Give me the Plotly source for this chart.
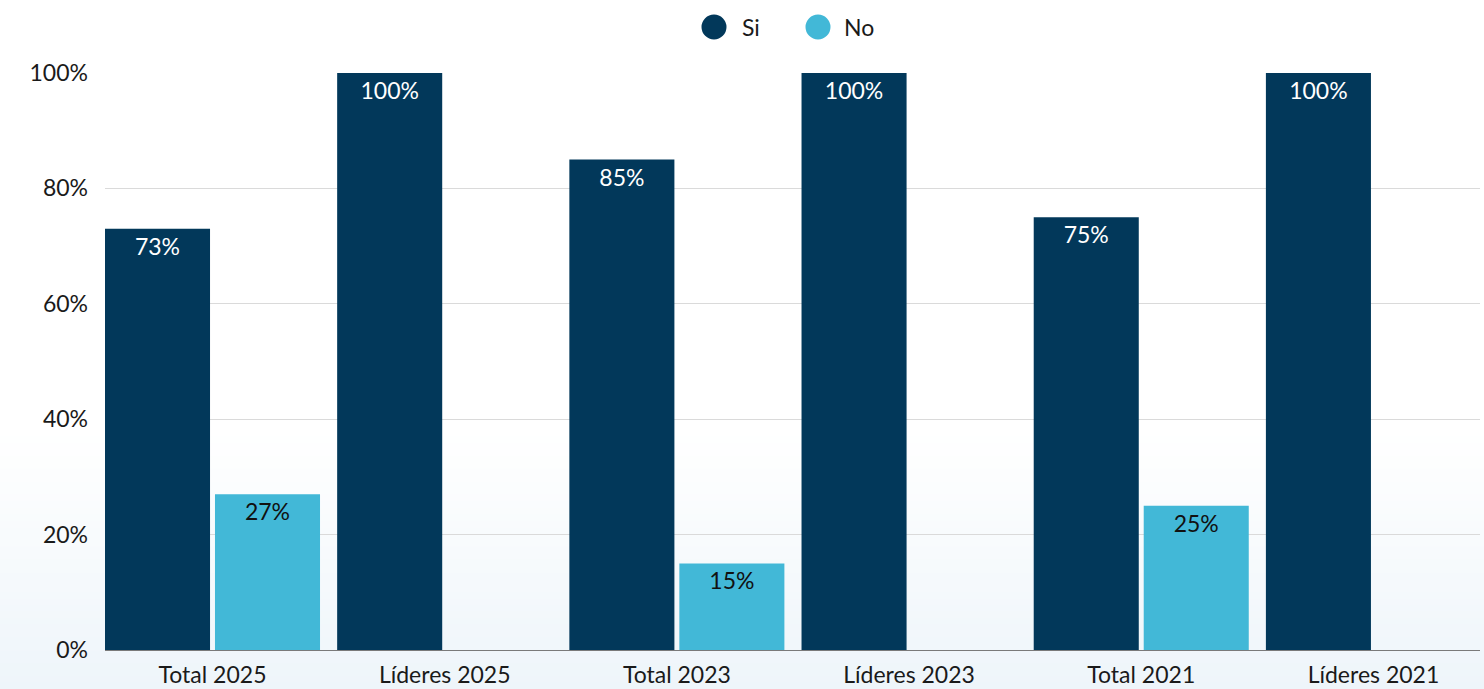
import plotly.graph_objects as go

categories = ["Total 2025", "Líderes 2025", "Total 2023", "Líderes 2023", "Total 2021", "Líderes 2021"]
si_values = [73, 100, 85, 100, 75, 100]
no_values = [27, None, 15, None, 25, None]
y_ticks = [0, 20, 40, 60, 80, 100]
y_tick_labels = [f"{v}%" for v in y_ticks]

W, H = 1484, 689
ML, MR, MT, MB = 105, 4, 73, 39
FONT = "Lato, 'Noto Sans', sans-serif"
FS = 23
SI_COLOR = "#02385a"
NO_COLOR = "#42b8d7"

plot_w = W - ML - MR
plot_h = H - MT - MB


def px_x(px):
    return (px - ML) / plot_w


def px_y(py):
    return 1 - (py - MT) / plot_h


fig = go.Figure()
fig.add_trace(go.Bar(
    name="Si", x=categories, y=si_values,
    marker=dict(color=SI_COLOR, line=dict(width=0)),
    text=[f"{v}%" for v in si_values],
    textposition="inside", insidetextanchor="end",
    textfont=dict(color="#ffffff", size=FS, family=FONT),
    showlegend=False, hoverinfo="x+y",
))
fig.add_trace(go.Bar(
    name="No", x=categories, y=no_values,
    marker=dict(color=NO_COLOR, line=dict(width=0)),
    text=[f"{v}%" if v is not None else "" for v in no_values],
    textposition="inside", insidetextanchor="end",
    textfont=dict(color="#111111", size=FS, family=FONT),
    showlegend=False, hoverinfo="x+y",
))

shapes = []
# soft vertical gradient at the bottom of the page
g_top, g_bot = 430, H
steps = 40
c0 = (255, 255, 255)
c1 = (238, 245, 250)
for i in range(steps):
    t = (i + 0.5) / steps
    col = tuple(round(c0[k] + (c1[k] - c0[k]) * t) for k in range(3))
    y0 = g_top + (g_bot - g_top) * i / steps
    y1 = g_top + (g_bot - g_top) * (i + 1) / steps + 1
    shapes.append(dict(
        type="rect", xref="paper", yref="paper", layer="below",
        x0=px_x(0), x1=px_x(W), y0=px_y(y1), y1=px_y(y0),
        fillcolor="rgb(%d,%d,%d)" % col, line=dict(width=0),
    ))

# legend drawn as circles with labels
legend_items = [("Si", SI_COLOR, 714, 740), ("No", NO_COLOR, 818, 842)]
annotations = []
for label, color, cx, tx in legend_items:
    shapes.append(dict(
        type="circle", xref="paper", yref="paper",
        x0=px_x(cx - 12.5), x1=px_x(cx + 12.5),
        y0=px_y(27 + 12.5), y1=px_y(27 - 12.5),
        fillcolor=color, line=dict(width=0),
    ))
    annotations.append(dict(
        text=label, xref="paper", yref="paper",
        x=px_x(tx), y=px_y(27), xanchor="left", yanchor="middle",
        showarrow=False, font=dict(size=FS, family=FONT, color="#1a1a1a"),
    ))

fig.update_layout(
    width=W, height=H,
    margin=dict(l=ML, r=MR, t=MT, b=MB, pad=0),
    paper_bgcolor="#ffffff", plot_bgcolor="rgba(0,0,0,0)",
    barmode="group", bargap=0.0525, bargroupgap=0.045,
    font=dict(family=FONT, size=FS, color="#1a1a1a"),
    showlegend=False,
    shapes=shapes, annotations=annotations,
    xaxis=dict(
        type="category", range=[-0.463, 5.459], automargin=False,
        showgrid=False, showline=True, linecolor="#7a7a7a", linewidth=1,
        ticks="", tickfont=dict(size=FS, family=FONT, color="#1a1a1a"),
        ticklabelstandoff=4, fixedrange=True,
    ),
    yaxis=dict(
        range=[0, 100], tickmode="array", tickvals=y_ticks, ticktext=y_tick_labels,
        showgrid=True, gridcolor="#dadada", gridwidth=1, automargin=False,
        zeroline=False, showline=False, ticks="",
        tickfont=dict(size=FS, family=FONT, color="#1a1a1a"),
        ticklabelstandoff=16, fixedrange=True,
    ),
    uniformtext=dict(minsize=FS, mode="show"),
)

fig.write_html("out.html", config={"displayModeBar": False})
